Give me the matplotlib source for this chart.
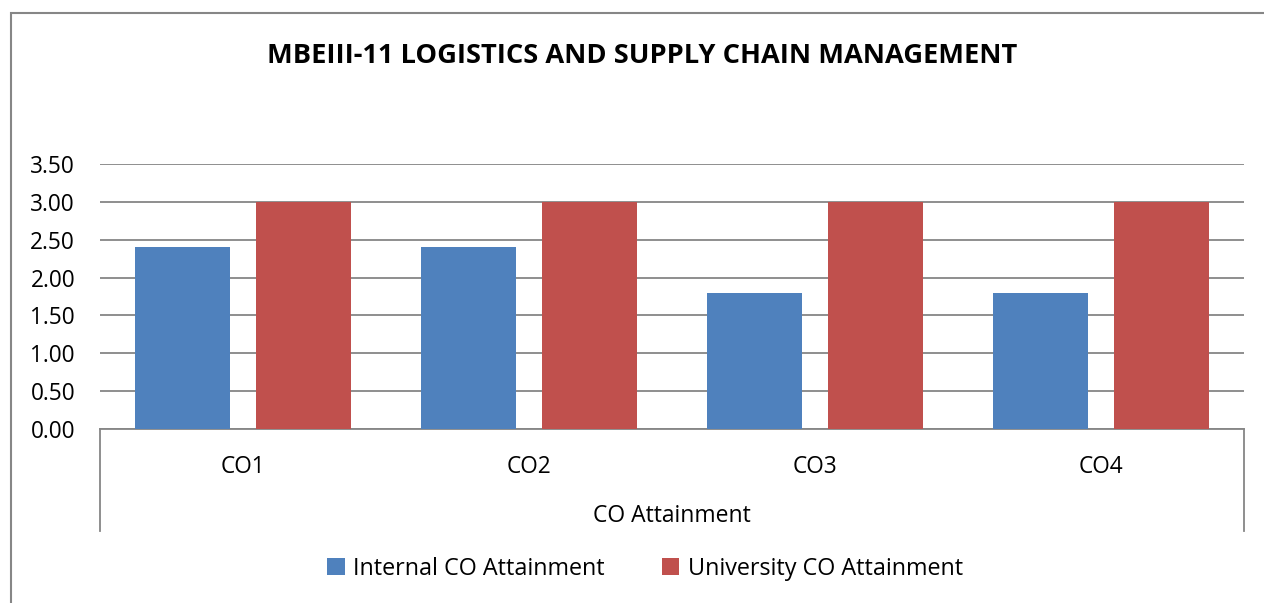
import matplotlib
matplotlib.use('Agg')
import matplotlib.pyplot as plt
import matplotlib.transforms as mtransforms
from matplotlib.patches import Rectangle

TITLE = 'MBEIII-11 LOGISTICS AND SUPPLY CHAIN MANAGEMENT'
categories = ['CO1', 'CO2', 'CO3', 'CO4']
internal = [2.40, 2.40, 1.80, 1.80]
university = [3.00, 3.00, 3.00, 3.00]
series_names = ['Internal CO Attainment', 'University CO Attainment']
axis_title = 'CO Attainment'
yticks = [0, 0.5, 1.0, 1.5, 2.0, 2.5, 3.0, 3.5]

BLUE = '#4F81BD'
RED = '#C0504D'
GRID = '#868686'

plt.rcParams['font.family'] = ['Open Sans', 'DejaVu Sans']

W, H = 1264, 603
fig = plt.figure(figsize=(W / 100, H / 100), dpi=100)

# outer chart frame (cropped on right and bottom in the reference)
fig.patches.append(Rectangle((11 / W, -0.1), 1.2, 1 - 13 / H + 0.1,
                             transform=fig.transFigure, fill=False,
                             edgecolor=GRID, linewidth=1.5))

ax = fig.add_axes([100 / W, (H - 429) / H, 1144 / W, (429 - 164) / H])

x = list(range(len(categories)))
bw = 0.332
off = 0.21
ax.bar([i - off for i in x], internal, bw, color=BLUE, label=series_names[0], zorder=3)
ax.bar([i + off for i in x], university, bw, color=RED, label=series_names[1], zorder=3)

ax.set_xlim(-0.5, len(categories) - 0.5)
ax.set_ylim(0, 3.5)
ax.set_yticks(yticks)
ax.set_yticklabels([f'{v:.2f}' for v in yticks], fontsize=16.3)
ax.tick_params(axis='y', length=0, pad=18)
ax.set_xticks(x)
ax.set_xticklabels(categories, fontsize=16.3)
ax.tick_params(axis='x', length=0, pad=19)
ax.grid(axis='y', color=GRID, linewidth=1.3, zorder=0)

for s in ['top', 'right', 'left']:
    ax.spines[s].set_visible(False)
ax.spines['bottom'].set_color(GRID)
ax.spines['bottom'].set_linewidth(1.3)

# multi-level category axis separators
trans = mtransforms.blended_transform_factory(ax.transData, ax.transAxes)
ybot = (429 - 531) / (429 - 164)
for xs in [-0.5, len(categories) - 0.5]:
    ax.plot([xs, xs], [0, ybot], transform=trans, color=GRID,
            linewidth=1.3, clip_on=False)

ax.text(0.5, (429 - 516) / (429 - 164), axis_title, transform=ax.transAxes,
        ha='center', va='center', fontsize=16.5)

fig.text(642 / W, 1 - 56 / H, TITLE, ha='center', va='center',
         fontsize=19.6, fontweight='bold')

fig.legend(loc='center', bbox_to_anchor=(645 / W, 1 - 569 / H), ncol=2,
           frameon=False, fontsize=16.8, handlelength=0.75, handleheight=0.75,
           handletextpad=0.35, columnspacing=2.45)

fig.savefig('out.png', dpi=100)
